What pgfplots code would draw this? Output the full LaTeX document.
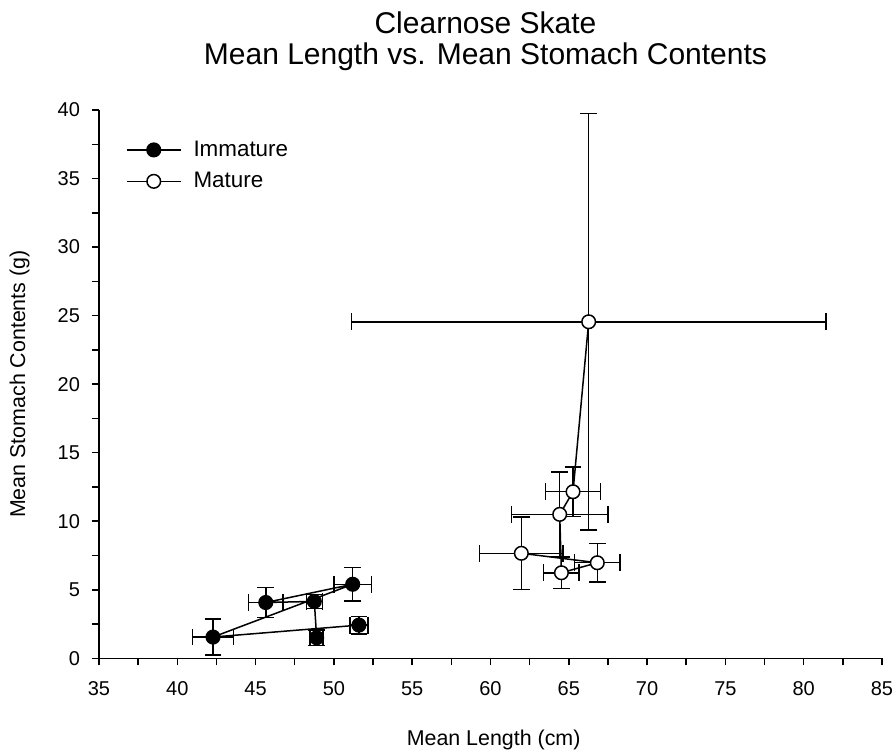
\documentclass[border=0pt]{standalone}
\usepackage{fontspec}
\setmainfont{Liberation Sans}
\usepackage{pgfplots}
\pgfplotsset{compat=1.18}
\begin{document}
\begin{tikzpicture}
\path[use as bounding box] (-49.5pt,-47.85pt) rectangle (398.5pt,329.15pt);
\begin{axis}[
 scale only axis, width=391.5pt, height=274.15pt,
 xmin=35, xmax=85, ymin=0, ymax=40,
 axis x line*=bottom, axis y line*=left,
 axis line style={line width=0.75pt, -},
 xtick={35,40,...,85}, ytick={0,5,...,40},
 minor xtick={37.5,42.5,...,82.5}, minor ytick={2.5,7.5,...,37.5},
 tick align=outside, major tick length=3.5pt, minor tick length=3.5pt,
 every tick/.style={line width=0.75pt, black},
 /pgf/number format/assume math mode=true,
 ticklabel style={font=\fontsize{10}{12}\selectfont},
 xticklabel style={yshift=-4.5pt},
 yticklabel style={xshift=-2.5pt},
 xlabel={Mean Length (cm)},
 ylabel={Mean Stomach Contents (g)},
 label style={font=\fontsize{10.7}{12}\selectfont},
 xlabel style={at={(axis description cs:0.504,-0.1587)}, anchor=base},
 ylabel style={at={(axis description cs:-0.0945,0.5)}, anchor=base},
 title={Clearnose Skate\\Mean Length vs. Mean Stomach Contents},
 title style={at={(axis description cs:0.4936,1)}, anchor=south, yshift=13.5pt, align=center, inner sep=0pt, font=\fontsize{15}{15.5}\selectfont},
 legend style={draw=none, fill=none, at={(axis description cs:0.034,0.952)}, anchor=north west, font=\fontsize{11.2}{13}\selectfont, inner sep=0pt, row sep=2.5pt},
 legend cell align=left,
 legend image code/.code={\draw[mark repeat=2,mark phase=2,#1] plot coordinates {(0pt,0pt)(13.5pt,0pt)(27pt,0pt)}; \path (31pt,0pt);},
]
\addplot[black, line width=0.75pt, mark=*, mark size=3.4pt, mark options={fill=black, solid},
  error bars/.cd, x dir=both, x explicit, y dir=both, y explicit,
  error mark options={rotate=90, mark size=4.2pt, line width=0.75pt, black},
  error bar style={line width=0.75pt, black}]
  table[x=x, y=y, x error=ex, y error=ey]{
x y ex ey
48.90 1.50 0.41 0.55
48.75 4.15 0.51 0.51
45.65 4.07 1.10 1.08
51.20 5.40 1.20 1.22
42.28 1.55 1.32 1.31
51.60 2.42 0.58 0.63
};
\addlegendentry{Immature}
\addplot[black, line width=0.75pt, mark=*, mark size=3.4pt, mark options={fill=white, solid},
  error bars/.cd, x dir=both, x explicit, y dir=both, y explicit,
  error mark options={rotate=90, mark size=4.2pt, line width=0.75pt, black},
  error bar style={line width=0.75pt, black}]
  table[x=x, y=y, x error=ex, y error=ey]{
x y ex ey
61.97 7.66 2.66 2.65
66.82 6.97 1.44 1.42
64.53 6.24 1.13 1.14
64.42 10.50 3.08 3.10
65.27 12.15 1.77 1.80
66.27 24.55 15.15 15.20
};
\addlegendentry{Mature}
\end{axis}
\end{tikzpicture}
\end{document}
